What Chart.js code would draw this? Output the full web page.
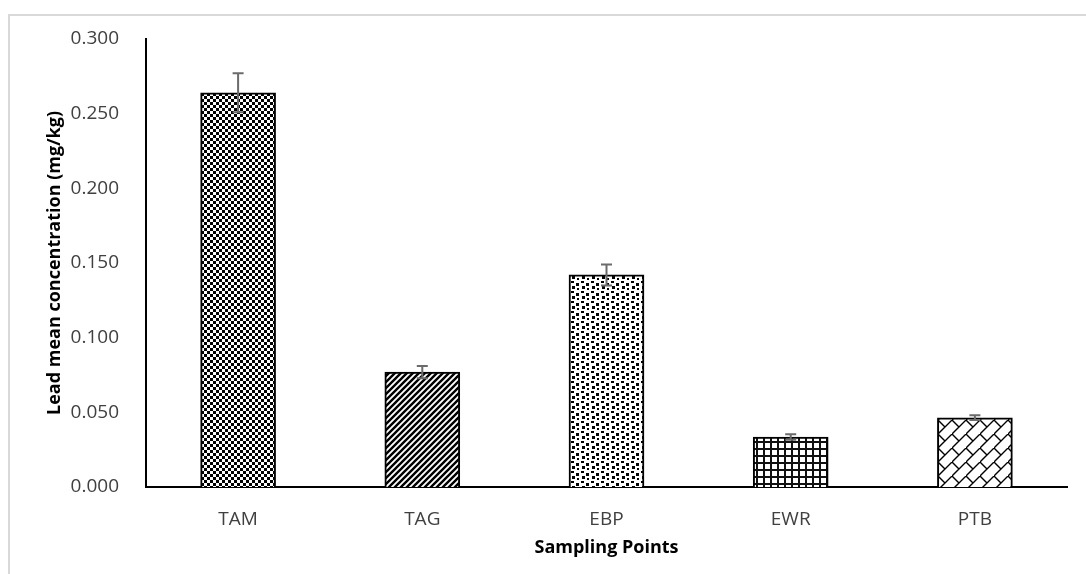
<!DOCTYPE html>
<html>
  <head>
    <meta charset="utf-8">
    <title>Lead mean concentration</title>
    <style>
      body { margin: 0; background: #fff; }
      .caja { position: relative; width: 1086px; height: 574px; overflow: hidden; }
      .marco { position: absolute; left: 8px; top: 14px; width: 2000px; height: 2000px;
               border-top: 2px solid #d9d9d9; border-left: 2px solid #d9d9d9; }
      #grafico { position: absolute; left: 0; top: 0; }
    </style>
  </head>
  <body>
    <div class="caja">
      <div class="marco"></div>
      <canvas id="grafico" width="1086" height="574"></canvas>
    </div>

    <script src="https://cdn.jsdelivr.net/npm/chart.js@4.4.1/dist/chart.umd.min.js"></script>
    <script type="text/javascript">
      // datos
      var puntos = ['TAM', 'TAG', 'EBP', 'EWR', 'PTB']
      var medias = [0.264, 0.077, 0.142, 0.0335, 0.0464]
      var errores = [0.013, 0.0041, 0.007, 0.0018, 0.0016]
      var yTicks = [0, 0.05, 0.1, 0.15, 0.2, 0.25, 0.3]

      // Tramas //
      function tile(w, h, dibujar) {
        var c = document.createElement('canvas')
        c.width = w
        c.height = h
        var g = c.getContext('2d')
        g.fillStyle = '#fff'
        g.fillRect(0, 0, w, h)
        g.fillStyle = '#000'
        g.strokeStyle = '#000'
        dibujar(g, w, h)
        return document.getElementById('grafico').getContext('2d').createPattern(c, 'repeat')
      }

      var ajedrez = tile(6, 6, function (g) {
        g.fillRect(0, 0, 3, 3)
        g.fillRect(3, 3, 3, 3)
      })
      var diagonal = tile(6, 6, function (g) {
        g.lineWidth = 2.4
        g.beginPath()
        g.moveTo(-3, 9); g.lineTo(9, -3)
        g.moveTo(-3, 3); g.lineTo(3, -3)
        g.moveTo(3, 9); g.lineTo(9, 3)
        g.stroke()
      })
      var confeti = tile(10, 10, function (g) {
        g.fillRect(1, 1, 3, 2)
        g.fillRect(6, 3, 3, 3)
        g.fillRect(2, 6, 3, 3)
        g.fillRect(7, 8, 2, 2)
      })
      var rejilla = tile(7, 7, function (g) {
        g.fillStyle = '#111'
        g.fillRect(0, 0, 7, 2)
        g.fillRect(0, 0, 2, 7)
      })
      var ladrillo = tile(14, 14, function (g) {
        g.lineWidth = 1.4
        g.beginPath()
        g.moveTo(-1, 15); g.lineTo(15, -1)
        g.moveTo(0, 0); g.lineTo(7, 7)
        g.stroke()
      })
      var tramas = [ajedrez, diagonal, confeti, rejilla, ladrillo]

      // barras de error
      var barrasError = {
        id: 'barrasError',
        afterDatasetsDraw: function (chart) {
          var ctx = chart.ctx
          var x = chart.scales.x
          var y = chart.scales.y
          ctx.save()
          ctx.strokeStyle = '#6b6b6b'
          ctx.lineWidth = 2
          medias.forEach(function (v, i) {
            var px = x.getPixelForValue(i)
            var arriba = y.getPixelForValue(v + errores[i])
            var abajo = y.getPixelForValue(v - errores[i])
            ctx.beginPath()
            ctx.moveTo(px, arriba); ctx.lineTo(px, abajo)
            ctx.moveTo(px - 5.5, arriba); ctx.lineTo(px + 5.5, arriba)
            ctx.moveTo(px - 5.5, abajo); ctx.lineTo(px + 5.5, abajo)
            ctx.stroke()
          })
          ctx.restore()
        }
      }

      var fuente = 'Open Sans'
      var chart1 = new Chart(document.getElementById('grafico'), {
        type: 'bar',
        data: {
          labels: puntos,
          datasets: [{
            data: medias,
            backgroundColor: tramas,
            borderColor: '#000',
            borderWidth: 2,
            barThickness: 75
          }]
        },
        options: {
          responsive: false,
          animation: false,
          layout: { padding: { left: 0, top: 39, right: 19, bottom: 0 } },
          plugins: { legend: { display: false }, tooltip: { enabled: false } },
          scales: {
            x: {
              grid: { display: false },
              border: { display: true, color: '#000', width: 2 },
              ticks: { color: '#404040', padding: 13, font: { family: fuente, size: 19 } },
              title: {
                display: true,
                text: 'Sampling Points',
                color: '#000',
                font: { family: fuente, size: 18, weight: 'bold' },
                padding: { top: 0, bottom: 15 }
              },
              afterFit: function (s) { s.height = 87 }
            },
            y: {
              min: 0,
              max: 0.3,
              grid: { display: false },
              border: { display: true, color: '#000', width: 2 },
              afterBuildTicks: function (s) {
                s.ticks = yTicks.map(function (v) { return { value: v } })
              },
              ticks: {
                color: '#404040',
                padding: 19,
                font: { family: fuente, size: 19 },
                callback: function (v) { return Number(v).toFixed(3) }
              },
              title: {
                display: true,
                text: 'Lead mean concentration (mg/kg)',
                color: '#000',
                font: { family: fuente, size: 18, weight: 'bold' },
                padding: { top: 44, bottom: 0 }
              },
              afterFit: function (s) { s.width = 146 }
            }
          }
        },
        plugins: [barrasError]
      })
    </script>
  </body>
</html>
